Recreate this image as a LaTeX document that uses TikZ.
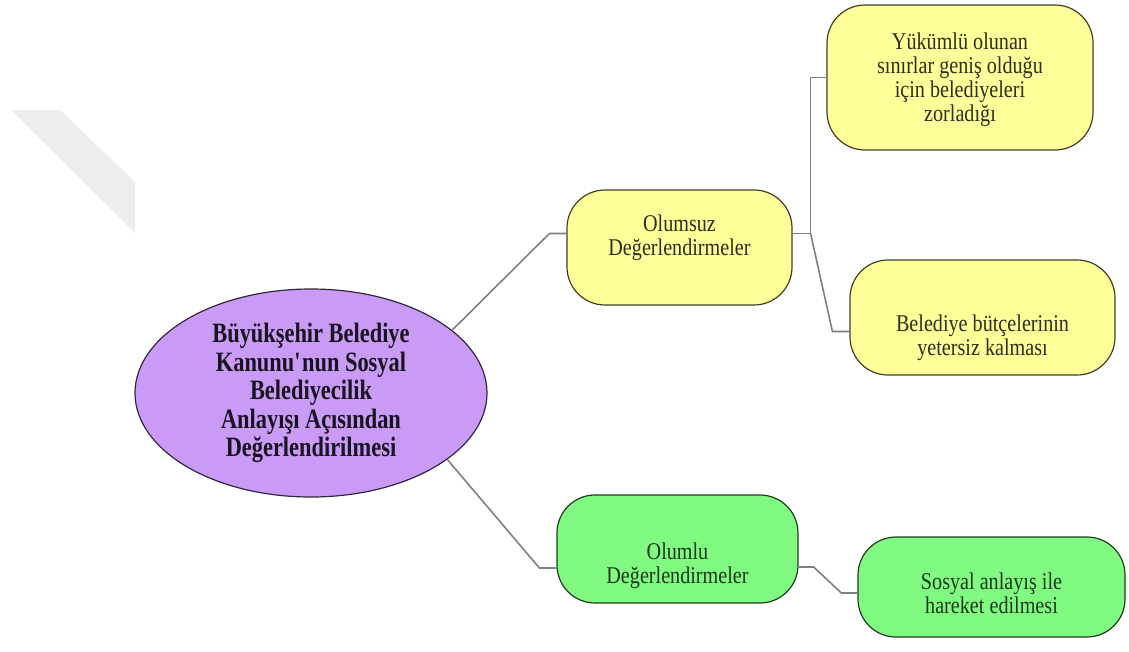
\documentclass[tikz,border=0pt]{standalone}
\usepackage{fontspec}
\setmainfont{Liberation Serif}
\newfontfamily\rootfont{Liberation Serif}[FakeStretch=0.8]
\newfontfamily\boxfont{Liberation Serif}[FakeStretch=0.84]
\usepackage{tikz}
\usetikzlibrary{
  positioning,
  calc,
  shapes.geometric
}
\definecolor{rootPurple}{HTML}{C99BF7}
\definecolor{negYellow}{HTML}{FFFF99}
\definecolor{posGreen}{HTML}{80FA80}
\definecolor{linkGray}{HTML}{808080}
\definecolor{markGray}{HTML}{EDEDED}
\tikzstyle{rootnode}=[ellipse, draw=rootPurple!25!black, line width=1.2pt, fill=rootPurple, text=rootPurple!12!black, font=\rootfont\bfseries\fontsize{28}{28.5}\selectfont, align=center, inner sep=0pt]
\tikzstyle{valbox}=[rectangle, rounded corners=38pt, line width=1.2pt, inner sep=0pt]
\tikzstyle{valtext}=[align=center, font=\boxfont\fontsize{24}{24}\selectfont, inner sep=0pt]
\tikzstyle{negbox}=[valbox, draw=negYellow!25!black, fill=negYellow]
\tikzstyle{posbox}=[valbox, draw=posGreen!25!black, fill=posGreen]
\tikzstyle{negtext}=[valtext, text=negYellow!18!black]
\tikzstyle{postext}=[valtext, text=posGreen!22!black]
\tikzstyle{link}=[linkGray, line width=1.6pt]

\begin{document}
\begin{tikzpicture}[x=1pt, y=-1pt]
      \useasboundingbox (0,0) rectangle (1129,651);

      % 背景の斜めの帯
      \fill[markGray] (11,110) -- (60,110) -- (135,182) -- (135,233) -- cycle;

      % 中心の楕円
      \node (root) [rootnode, minimum width=352pt, minimum height=208pt] at (311,393)
        {Büyükşehir Belediye\\Kanunu\textquotesingle nun Sosyal\\Belediyecilik\\Anlayışı Açısından\\Değerlendirilmesi};

      % 評価の箱
      \node (neg) [negbox, minimum width=225pt, minimum height=115pt,
        label={[negtext, yshift=10pt]center:{Olumsuz\\Değerlendirmeler}}] at (679.5,247.5) {};
      \node (pos) [posbox, minimum width=241pt, minimum height=108pt,
        label={[postext, yshift=-17pt]center:{Olumlu\\Değerlendirmeler}}] at (677.5,549) {};

      % 右側の箱
      \node (duty) [negbox, minimum width=266pt, minimum height=145pt,
        label={[negtext, yshift=-2pt]center:{Yükümlü olunan\\sınırlar geniş olduğu\\için belediyeleri\\zorladığı}}] at (960,77.5) {};
      \node (budget) [negbox, minimum width=265pt, minimum height=115pt,
        label={[negtext, yshift=-20pt]center:{Belediye bütçelerinin\\yetersiz kalması}}] at (982.5,317.5) {};
      \node (social) [posbox, minimum width=267pt, minimum height=100pt,
        label={[postext, yshift=-6pt]center:{Sosyal anlayış ile\\hareket edilmesi}}] at (991.5,587) {};

      % 接続点
      \coordinate (negin) at ([yshift=14pt]neg.west);
      \coordinate (negout) at ([yshift=14pt]neg.east);
      \coordinate (posin) at ([yshift=-19pt]pos.west);
      \coordinate (posout) at ([yshift=-18pt]pos.east);
      \coordinate (budgetin) at ([yshift=-14pt]budget.west);
      \coordinate (socialin) at ([yshift=-6pt]social.west);

      % 楕円からの線
      \draw[link] (root.24) -- ([xshift=-17pt]negin) -- (negin);
      \draw[link] (root.-26) -- ([xshift=-17pt]posin) -- (posin);

      % 右側への線
      \draw[link] (negout) -- ([xshift=18pt]negout) coordinate (negfork) |- (duty.west);
      \draw[link] (negfork) -- ([xshift=-17pt]budgetin) -- (budgetin);
      \draw[link] (posout) -- ([xshift=15pt]posout) -- ([xshift=-16pt]socialin) -- (socialin);
    \end{tikzpicture}
\end{document}
